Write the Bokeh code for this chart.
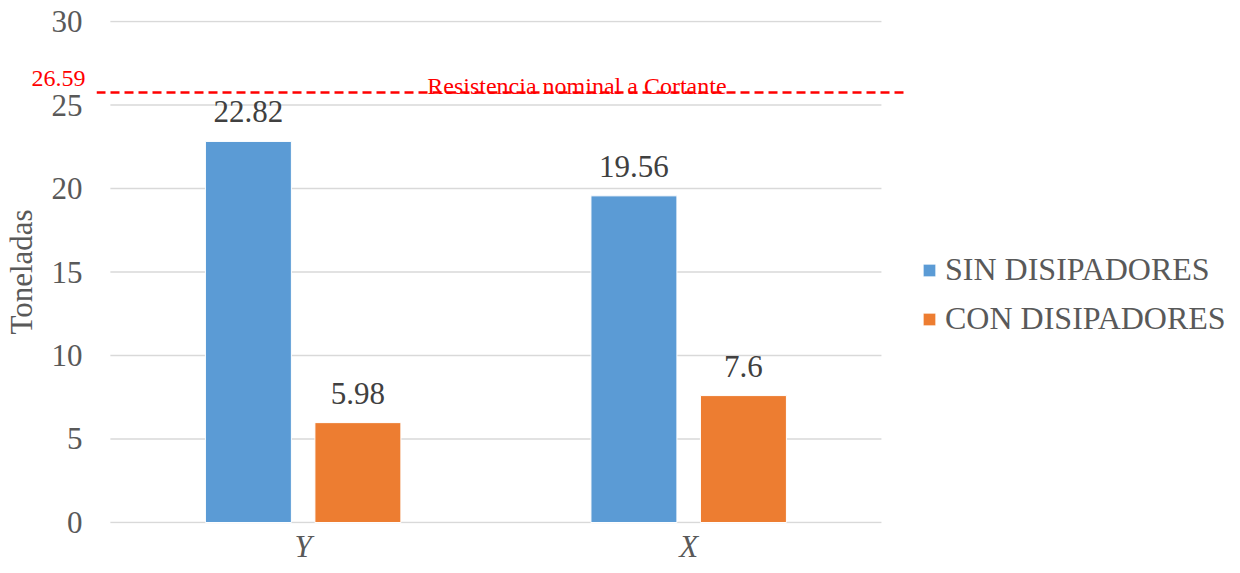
from bokeh.plotting import figure
from bokeh.models import (ColumnDataSource, Range1d, LabelSet, Label, Span,
                          Legend, LegendItem, FixedTicker, LinearAxis)
from bokeh.embed import file_html
from bokeh.resources import INLINE

categories = ["Y", "X"]
sin_disipadores = [22.82, 19.56]
con_disipadores = [5.98, 7.6]
series_names = ["SIN DISIPADORES", "CON DISIPADORES"]
limit_value = 26.59
limit_line_drawn = 25.75
limit_text = "Resistencia nominal a Cortante"
y_ticks = [0, 5, 10, 15, 20, 25, 30]

FONT = "Liberation Serif"
BLUE = "#5B9BD5"
ORANGE = "#ED7D31"
GREY = "#595959"

pos = [i + 0.5 for i in range(len(categories))]
off = 0.142
src = ColumnDataSource(dict(
    xs=[x - off for x in pos],
    xc=[x + off for x in pos],
    sin=sin_disipadores,
    con=con_disipadores,
    sin_t=[f"{v:g}" for v in sin_disipadores],
    con_t=[f"{v:g}" for v in con_disipadores],
))

p = figure(x_range=Range1d(-0.036, 2.065), y_range=Range1d(-0.06, 30.06),
           frame_width=810, frame_height=503,
           output_backend="svg", toolbar_location=None,
           min_border_left=87, min_border_right=0,
           min_border_top=20, min_border_bottom=42,
           x_axis_type=None, y_axis_type=None)
p.outline_line_color = None
p.xgrid.grid_line_color = None
p.ygrid.grid_line_color = None

# gridlines across the category span
p.segment(x0=0, x1=len(categories), y0=y_ticks, y1=y_ticks,
          line_color="#D9D9D9", line_width=1.5)

w = 0.223
r1 = p.vbar(x="xs", top="sin", width=w, source=src,
            fill_color=BLUE, line_color="white", line_width=1)
r2 = p.vbar(x="xc", top="con", width=w, source=src,
            fill_color=ORANGE, line_color="white", line_width=1)

for xcol, ycol, tcol in [("xs", "sin", "sin_t"), ("xc", "con", "con_t")]:
    p.add_layout(LabelSet(x=xcol, y=ycol, text=tcol, source=src,
                          text_align="center", text_baseline="alphabetic",
                          y_offset=19, text_font=FONT, text_font_size="31px",
                          text_color="#404040"))

# gray y axis (inner)
ya = LinearAxis(ticker=FixedTicker(ticks=y_ticks))
ya.axis_line_color = None
ya.major_tick_line_color = None
ya.minor_tick_line_color = None
ya.major_tick_out = 0
ya.major_label_text_font = FONT
ya.major_label_text_font_size = "31px"
ya.major_label_text_color = GREY
ya.major_label_standoff = 14
p.add_layout(ya, "left")

# red limit value axis (outer) + axis title
ra = LinearAxis(ticker=FixedTicker(ticks=[limit_value]),
                major_label_overrides={limit_value: f"{limit_value:g}"})
ra.axis_line_color = None
ra.major_tick_line_color = None
ra.minor_tick_line_color = None
ra.major_tick_out = 0
ra.major_label_text_font = FONT
ra.major_label_text_font_size = "24px"
ra.major_label_text_color = "red"
ra.major_label_standoff = -37
ra.axis_label = "Toneladas"
ra.axis_label_text_font = FONT
ra.axis_label_text_font_size = "31px"
ra.axis_label_text_font_style = "normal"
ra.axis_label_text_color = GREY
ra.axis_label_standoff = -10
p.add_layout(ra, "left")

# x axis
xa = LinearAxis(ticker=FixedTicker(ticks=pos),
                major_label_overrides={x: c for x, c in zip(pos, categories)})
xa.axis_line_color = None
xa.major_tick_line_color = None
xa.minor_tick_line_color = None
xa.major_tick_out = 0
xa.major_label_text_font = FONT
xa.major_label_text_font_size = "31px"
xa.major_label_text_font_style = "italic"
xa.major_label_text_color = GREY
xa.major_label_standoff = 5
p.add_layout(xa, "below")

# limit line
p.add_layout(Span(location=limit_line_drawn, dimension="width",
                  line_color="red", line_width=2.5, line_dash="9 5"))
p.add_layout(Label(x=0.822, y=limit_line_drawn, text=limit_text, text_align="left",
                   text_baseline="alphabetic", y_offset=6, text_font=FONT,
                   text_font_size="24px", text_color="red"))

legend = Legend(items=[LegendItem(label=series_names[0], renderers=[r1]),
                       LegendItem(label=series_names[1], renderers=[r2])],
                location=(15, 186), orientation="vertical",
                glyph_width=16, glyph_height=16, label_standoff=8,
                label_height=36, spacing=12, padding=0, margin=0,
                border_line_color=None, background_fill_alpha=0,
                label_text_font=FONT, label_text_font_size="32px",
                label_text_color=GREY)
p.add_layout(legend, "right")

open("out.html", "w").write(file_html(p, INLINE))
